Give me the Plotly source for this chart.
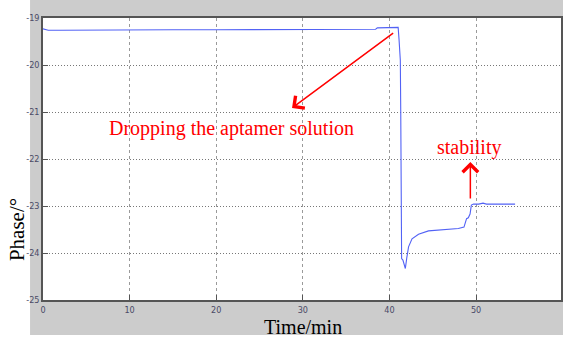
import plotly.graph_objects as go

# data
time_min = [0, 0.3, 0.6, 2, 5, 10, 15, 20, 25, 30, 35, 38.4, 38.6, 39.5, 40.5, 41.0, 41.1,
            41.25, 41.3, 41.32, 41.35, 41.4, 41.55, 41.7, 41.83, 42.0, 42.2, 42.6, 43.35,
            44.5, 46.2, 47.95, 48.6, 48.75, 48.9, 49.1, 49.3, 49.45, 49.7, 50.3, 50.8,
            51.2, 52, 53, 54, 54.5]
phase_deg = [-19.23, -19.25, -19.26, -19.26, -19.255, -19.255, -19.25, -19.25, -19.25,
             -19.25, -19.25, -19.24, -19.21, -19.21, -19.2, -19.2, -19.45,
             -19.9, -21.0, -22.5, -23.6, -24.12, -24.15, -24.26, -24.33, -24.1, -23.87,
             -23.7, -23.6, -23.53, -23.5, -23.48, -23.45, -23.33, -23.27, -23.25, -23.17,
             -22.98, -22.96, -22.96, -22.94, -22.96, -22.96, -22.96, -22.96, -22.96]

x_ticks = [0, 10, 20, 30, 40, 50, 60]
y_ticks = [-25, -24, -23, -22, -21, -20, -19]

fig = go.Figure()
fig.add_trace(go.Scatter(x=time_min, y=phase_deg, mode="lines",
                         line=dict(color="#5262f5", width=1.1), showlegend=False))

W, H = 563, 340
ml, mr, mt, mb = 43, 0, 18, 40
pw, ph = W - ml - mr, H - mt - mb
XMAX = 59.8

def px_x(p):
    return (p - ml) / pw

def px_y(p):
    return (H - mb - p) / ph

def dx(p):
    return (p - ml) / pw * XMAX

def dy(p):
    return -19 - (p - mt) / ph * 6

fig.add_shape(type="rect", xref="paper", yref="paper", layer="below",
              x0=px_x(30), x1=px_x(W + 5), y0=px_y(335), y1=px_y(-5),
              fillcolor="#cccccc", line=dict(width=0))
fig.add_shape(type="rect", xref="paper", yref="paper", layer="below",
              x0=0, x1=1, y0=0, y1=1, fillcolor="white", line=dict(width=0))

tickfont = dict(family="DejaVu Sans Condensed, DejaVu Sans", size=9, color="#4a4a66")

fig.update_xaxes(range=[0, XMAX], tickvals=x_ticks, ticktext=[str(v) for v in x_ticks],
                 showgrid=True, gridcolor="#9a9a9a", griddash="3px,3px", gridwidth=1,
                 showline=True, linecolor="#555555", linewidth=1.5, mirror=True,
                 ticks="inside", ticklen=5, tickcolor="#555555", tickfont=tickfont,
                 zeroline=False)
fig.update_yaxes(range=[-25, -19], tickvals=y_ticks, ticktext=[str(v) for v in y_ticks],
                 showgrid=True, gridcolor="#777777", griddash="1px,2px", gridwidth=1,
                 showline=True, linecolor="#555555", linewidth=1.5, mirror=True,
                 ticks="inside", ticklen=5, tickcolor="#555555", tickfont=tickfont,
                 zeroline=False)

serif = "Liberation Serif, Times New Roman, serif"
fig.add_annotation(text="Phase/°", xref="paper", yref="paper", x=px_x(17), y=px_y(230),
                   xanchor="center", yanchor="middle",
                   textangle=-90, showarrow=False, font=dict(family=serif, size=21, color="black"))
fig.add_annotation(text="Time/min", xref="paper", yref="paper", x=px_x(304), y=px_y(327),
                   xanchor="center", yanchor="middle",
                   showarrow=False, font=dict(family=serif, size=20, color="black"))

fig.add_annotation(text="Dropping the aptamer solution", xref="x", yref="y",
                   x=dx(232), y=dy(128), xanchor="center", yanchor="middle",
                   showarrow=False, font=dict(family=serif, size=20, color="red"))
fig.add_annotation(text="stability", xref="x", yref="y",
                   x=dx(471), y=dy(147), xanchor="center", yanchor="middle",
                   showarrow=False, font=dict(family=serif, size=20, color="red"))

fig.add_annotation(x=dx(293), y=dy(108), ax=dx(396), ay=dy(32), xref="x", yref="y",
                   axref="x", ayref="y", text="", showarrow=True, arrowhead=4,
                   arrowsize=2, arrowwidth=1.5, arrowcolor="red")
fig.add_annotation(x=dx(472), y=dy(162), ax=dx(472), ay=dy(200), xref="x", yref="y",
                   axref="x", ayref="y", text="", showarrow=True, arrowhead=4,
                   arrowsize=2, arrowwidth=1.5, arrowcolor="red")

fig.update_layout(width=W, height=H, margin=dict(l=ml, r=mr, t=mt, b=mb),
                  paper_bgcolor="white", plot_bgcolor="white")

fig.write_html("out.html", config={"displayModeBar": False},
               post_script="document.body.style.margin='0px';")
